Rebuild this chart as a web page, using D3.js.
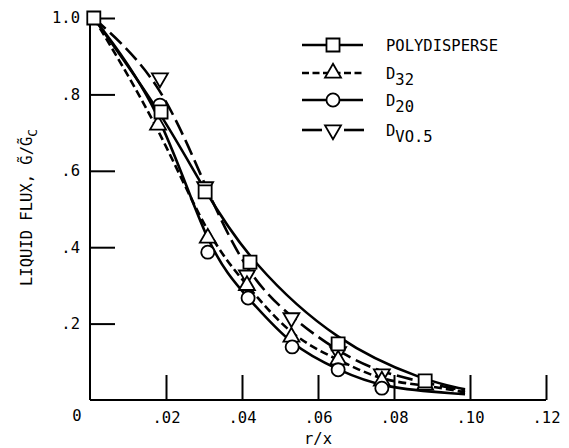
<!DOCTYPE html>
<html><head><meta charset="utf-8">
<script src="https://cdn.jsdelivr.net/npm/d3@7"></script>
<style>
html,body{margin:0;padding:0;background:#fff;}
text{font-family:"DejaVu Sans Mono",monospace;fill:#000;}
</style></head>
<body><svg id="c" width="569" height="448"></svg>
<script>
// ---- data ----
const xTicks = [0.02, 0.04, 0.06, 0.08, 0.10, 0.12];
const xTickLabels = [".02", ".04", ".06", ".08", ".10", ".12"];
const yTicks = [0.2, 0.4, 0.6, 0.8, 1.0];
const yTickLabels = [".2", ".4", ".6", ".8", "1.0"];

const polyX = [0.001, 0.0187, 0.0303, 0.0421, 0.0653, 0.0882];
const polyY = [1.0, 0.754, 0.545, 0.361, 0.147, 0.05];
const d32X = [0.0179, 0.031, 0.0413, 0.053, 0.0653, 0.0768, 0.0882];
const d32Y = [0.72, 0.424, 0.30, 0.165, 0.105, 0.05, 0.039];
const d20X = [0.0184, 0.031, 0.0416, 0.0532, 0.0653, 0.0768];
const d20Y = [0.772, 0.387, 0.267, 0.139, 0.079, 0.031];
const dvX = [0.0184, 0.0303, 0.0413, 0.053, 0.0653, 0.0768];
const dvY = [0.843, 0.558, 0.327, 0.215, 0.126, 0.068];

// curve start / end (fitted curves)
const curveStart = [0.001, 1.0];
const curveEndX = 0.0987;
const polyEndY = 0.028, d32EndY = 0.02, d20EndY = 0.015, dvEndY = 0.024;

const seriesNames = ["POLYDISPERSE", "D", "D", "D"];
const seriesSubs = ["", "32", "20", "VO.5"];

// ---- layout ----
const svg = d3.select("#c");
const x = d3.scaleLinear().domain([0, 0.12]).range([90, 546]);
const y = d3.scaleLinear().domain([0, 1.0]).range([400, 18]);

const gx = svg.append("g").attr("transform", "translate(0,400)")
  .call(d3.axisBottom(x).tickValues(xTicks).tickSize(-25).tickSizeOuter(0).tickPadding(12)
    .tickFormat((d, i) => xTickLabels[i]));
const gy = svg.append("g").attr("transform", "translate(90,0)")
  .call(d3.axisLeft(y).tickValues(yTicks).tickSize(-25).tickSizeOuter(0).tickPadding(10)
    .tickFormat((d, i) => yTickLabels[i]));
[gx, gy].forEach(g => {
  g.selectAll("path,line").attr("stroke", "#000").attr("stroke-width", 2);
  g.selectAll("text").attr("font-size", 15.5).attr("font-family", "DejaVu Sans Mono");
});
gx.select(".domain").attr("d", "M90,0H546");
gy.select(".domain").attr("d", "M0,400V18");

svg.append("text").attr("x", 77).attr("y", 421).attr("text-anchor", "middle")
  .attr("font-size", 15.5).text("0");
svg.append("text").attr("x", 318).attr("y", 444).attr("text-anchor", "middle")
  .attr("font-size", 15.5).text("r/x");

const yt = svg.append("text").attr("transform", "translate(32,286) rotate(-90)")
  .attr("font-size", 15.5);
yt.append("tspan").text("LIQUID FLUX, G\u0303/G\u0303");
yt.append("tspan").attr("dy", 5).attr("font-size", 13).text("C");

// ---- curves ----
const line = d3.line().x(d => x(d[0])).y(d => y(d[1])).curve(d3.curveBasis);
function pts(xs, ys, endY, withStart) {
  const p = xs.map((v, i) => [v, ys[i]]);
  if (withStart) p.unshift(curveStart);
  p.push([curveEndX, endY]);
  return p;
}
const series = [
  {xs: polyX, ys: polyY, end: polyEndY, dash: null, mk: "square", start: false},
  {xs: d32X, ys: d32Y, end: d32EndY, dash: "8,4", mk: "up", start: true},
  {xs: d20X, ys: d20Y, end: d20EndY, dash: null, mk: "circle", start: true},
  {xs: dvX, ys: dvY, end: dvEndY, dash: "16,6", mk: "down", start: true}
];
series.forEach(s => {
  svg.append("path").attr("d", line(pts(s.xs, s.ys, s.end, s.start)))
    .attr("fill", "none").attr("stroke", "#000").attr("stroke-width", 2.6)
    .attr("stroke-dasharray", s.dash);
});

// ---- markers ----
const symSize = {square: 170, up: 110, circle: 135, down: 110};
function marker(g, type, cx, cy) {
  let sym;
  if (type === "square") sym = d3.symbol(d3.symbolSquare, symSize.square);
  else if (type === "circle") sym = d3.symbol(d3.symbolCircle, symSize.circle);
  else sym = d3.symbol(d3.symbolTriangle, symSize[type]);
  const rot = type === "down" ? " rotate(180)" : "";
  g.append("path").attr("d", sym())
    .attr("transform", `translate(${cx},${cy})${rot}`)
    .attr("fill", "#fff").attr("stroke", "#000").attr("stroke-width", 1.8);
}
const mg = svg.append("g");
[series[3], series[1], series[2], series[0]].forEach(s => {
  s.xs.forEach((v, i) => marker(mg, s.mk, x(v), y(s.ys[i])));
});

// ---- legend ----
const legY = [45, 73, 100, 130];
const lg = svg.append("g");
series.forEach((s, i) => {
  const yy = legY[i];
  if (s.mk === "down") {
    lg.append("line").attr("x1", 302).attr("x2", 322).attr("y1", yy).attr("y2", yy)
      .attr("stroke", "#000").attr("stroke-width", 2.6);
    lg.append("line").attr("x1", 344).attr("x2", 364).attr("y1", yy).attr("y2", yy)
      .attr("stroke", "#000").attr("stroke-width", 2.6);
  } else {
    lg.append("line").attr("x1", 302).attr("x2", 363).attr("y1", yy).attr("y2", yy)
      .attr("stroke", "#000").attr("stroke-width", 2.6).attr("stroke-dasharray", s.dash ? "7,3.5" : null);
  }
  marker(lg, s.mk, 333, yy);
  const t = lg.append("text").attr("x", 386).attr("y", yy + 6).attr("font-size", 15.5);
  t.append("tspan").text(seriesNames[i]);
  if (seriesSubs[i]) t.append("tspan").attr("dy", 6).text(seriesSubs[i]);
});
</script></body></html>
